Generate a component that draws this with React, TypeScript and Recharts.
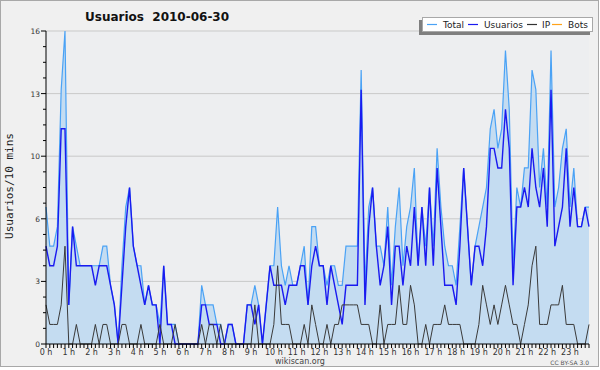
import React from "react";
import { ComposedChart, Area, Line, XAxis, YAxis, CartesianGrid } from "recharts";

const hourLabels = [
  "0 h", "1 h", "2 h", "3 h", "4 h", "5 h", "6 h", "7 h", "8 h", "9 h", "10 h", "11 h",
  "12 h", "13 h", "14 h", "15 h", "16 h", "17 h", "18 h", "19 h", "20 h", "21 h", "22 h", "23 h",
];

// one value every 10 minutes, 00:00 .. 23:50
const totalSeries = [
  7, 5, 5, 6, 13, 16, 2, 6, 5, 4,
  4, 4, 4, 4, 4, 5, 5, 3, 2, 0,
  4, 7, 8, 5, 4, 4, 2, 3, 2, 2,
  1, 4, 1, 1, 1, 0, 0, 0, 0, 0,
  0, 3, 2, 2, 2, 1, 1, 0, 1, 1,
  0, 0, 0, 2, 2, 3, 2, 0, 2, 4,
  4, 7, 4, 3, 4, 3, 3, 4, 5, 2,
  6, 6, 4, 4, 3, 4, 4, 3, 3, 5,
  5, 5, 5, 14, 3, 7, 8, 5, 5, 4,
  7, 3, 6, 8, 4, 6, 7, 9, 4, 7,
  5, 8, 5, 10, 7, 5, 4, 4, 3, 6,
  9, 6, 3, 5, 6, 7, 8, 11, 12, 10,
  11, 15, 12, 4, 8, 7, 9, 9, 14, 13,
  8, 10, 7, 15, 7, 8, 10, 11, 7, 9,
  6, 6, 7, 7,
];

const usuariosSeries = [
  5, 4, 4, 5, 11, 11, 2, 6, 4, 4,
  4, 4, 4, 3, 4, 4, 4, 3, 2, 0,
  3, 6, 8, 5, 4, 3, 2, 3, 2, 2,
  0, 4, 1, 1, 0, 0, 0, 0, 0, 0,
  0, 2, 2, 1, 1, 1, 0, 0, 1, 1,
  0, 0, 0, 2, 2, 1, 2, 0, 2, 4,
  3, 3, 3, 2, 3, 3, 3, 4, 4, 2,
  4, 5, 4, 4, 2, 4, 3, 2, 1, 3,
  3, 3, 3, 13, 2, 6, 8, 5, 3, 4,
  6, 2, 5, 5, 3, 5, 4, 7, 4, 7,
  4, 8, 4, 9, 6, 3, 3, 3, 2, 5,
  9, 6, 3, 5, 5, 4, 6, 10, 10, 9,
  9, 12, 10, 3, 7, 7, 8, 7, 10, 8,
  7, 9, 6, 13, 5, 6, 7, 10, 6, 8,
  6, 6, 7, 6,
];

const ipSeries = [
  2, 1, 1, 1, 2, 5, 0, 0, 1, 0,
  0, 0, 0, 1, 0, 1, 1, 0, 0, 0,
  1, 1, 0, 0, 0, 1, 0, 0, 0, 0,
  1, 0, 0, 0, 1, 0, 0, 0, 0, 0,
  0, 1, 0, 1, 1, 0, 1, 0, 0, 0,
  0, 0, 0, 0, 0, 2, 0, 0, 0, 0,
  1, 4, 1, 1, 1, 0, 0, 0, 1, 0,
  2, 1, 0, 0, 1, 0, 1, 1, 2, 2,
  2, 2, 2, 1, 1, 1, 0, 0, 2, 0,
  1, 1, 1, 3, 1, 1, 3, 2, 0, 0,
  1, 0, 1, 1, 1, 2, 1, 1, 1, 1,
  0, 0, 0, 0, 1, 3, 2, 1, 2, 1,
  2, 3, 2, 1, 1, 0, 1, 2, 4, 5,
  1, 1, 1, 2, 2, 2, 3, 1, 1, 1,
  0, 0, 0, 1,
];

const yMajorTicks = [0, 3.2, 6.4, 9.6, 12.8, 16];
const yMajorLabels = ["0", "3", "6", "10", "13", "16"];
const yAllTicks = [
  0, 0.8, 1.6, 2.4, 3.2, 4, 4.8, 5.6, 6.4, 7.2, 8, 8.8, 9.6, 10.4, 11.2, 12, 12.8, 13.6,
  14.4, 15.2, 16,
];

const legendNames = ["Total", "Usuarios", "IP", "Bots"];
const legendColors = ["#4aa2f5", "#1a1af0", "#333333", "#ffa31a"];

const rows = totalSeries.map((t, i) => ({
  slot: i,
  total: t,
  usuarios: usuariosSeries[i],
  ip: ipSeries[i],
}));
const xTicks = rows.map((r) => r.slot);

const FONT = "DejaVu Sans, Verdana, sans-serif";

const YTick = (props: any) => {
  const { x, y, payload } = props;
  const v = payload.value;
  const idx = yMajorTicks.findIndex((m) => Math.abs(m - v) < 1e-6);
  const major = idx >= 0;
  return (
    <g>
      <line x1={x - (major ? 5 : 3)} x2={x} y1={y} y2={y} stroke="#000" strokeWidth={1} />
      {major && (
        <text x={x - 6} y={y + 3} textAnchor="end" fontSize={7.5} fill="#333" fontFamily={FONT}>
          {yMajorLabels[idx]}
        </text>
      )}
    </g>
  );
};

const XTick = (props: any) => {
  const { x, y, payload } = props;
  const i = payload.value;
  return (
    <g>
      <line x1={x} x2={x} y1={y} y2={y + 4} stroke="#000" strokeWidth={1} />
      {i % 6 === 0 && (
        <text x={x} y={y + 11} textAnchor="middle" fontSize={8} fill="#333" fontFamily={FONT}>
          {hourLabels[i / 6]}
        </text>
      )}
    </g>
  );
};

const legendLineX = [427, 468, 527, 552];
const legendTextX = [443, 484, 542, 568];

export default function App() {
  return (
    <div style={{ position: "absolute", left: 0, top: 0, width: 600, height: 370, background: "#fff" }}>
      <div
        style={{
          position: "absolute",
          left: 0,
          top: 0,
          width: 599,
          height: 367,
          background: "#f0f0f0",
          border: "1px solid #a8a8a8",
          boxSizing: "border-box",
        }}
      />
      <div style={{ position: "absolute", left: 0, top: 0 }}>
        <ComposedChart width={600} height={370} data={rows} margin={{ top: 31, right: 11, left: 0, bottom: 0 }}>
          <CartesianGrid
            vertical={false}
            horizontalValues={[3.2, 6.4, 9.6, 12.8, 16]}
            stroke="#c9c9c9"
            fill="#edeef0"
            fillOpacity={1}
          />
          <XAxis
            type="number"
            dataKey="slot"
            domain={[0, 143]}
            ticks={xTicks}
            interval={0}
            height={26}
            tickSize={0}
            tickMargin={0}
            tickLine={false}
            axisLine={{ stroke: "#000", strokeWidth: 1 }}
            tick={<XTick />}
          />
          <YAxis
            type="number"
            domain={[0, 16]}
            ticks={yAllTicks}
            interval={0}
            width={46}
            tickSize={0}
            tickMargin={0}
            tickLine={false}
            axisLine={{ stroke: "#000", strokeWidth: 1 }}
            tick={<YTick />}
          />
          <Area
            type="linear"
            dataKey="total"
            stroke="#4aa2f5"
            strokeWidth={1.2}
            fill="#c4dcf1"
            fillOpacity={1}
            isAnimationActive={false}
            dot={false}
            activeDot={false}
          />
          <Line
            type="linear"
            dataKey="usuarios"
            stroke="#1a1af0"
            strokeWidth={1.4}
            dot={false}
            activeDot={false}
            isAnimationActive={false}
          />
          <Line
            type="linear"
            dataKey="ip"
            stroke="#3a3a3a"
            strokeWidth={1}
            dot={false}
            activeDot={false}
            isAnimationActive={false}
          />
        </ComposedChart>
      </div>
      <svg
        width={600}
        height={370}
        style={{ position: "absolute", left: 0, top: 0, pointerEvents: "none" }}
      >
        <text x={85} y={21} fontSize={12} fontWeight="bold" fill="#111" fontFamily={FONT} style={{ whiteSpace: "pre" }}>
          {"Usuarios  2010-06-30"}
        </text>
        <text
          transform="translate(13,186) rotate(-90)"
          textAnchor="middle"
          fontSize={11}
          fill="#222"
          fontFamily="DejaVu Sans Mono, monospace"
        >
          Usuarios/10 mins
        </text>
        <rect x={419} y={20} width={171} height={15} fill="#7f7f7f" />
        <rect x={422.5} y={17.5} width={170} height={14} fill="#fff" stroke="#a8a8a8" strokeWidth={1} />
        {legendNames.map((n, i) => (
          <g key={n}>
            <line x1={legendLineX[i]} x2={legendLineX[i] + 10} y1={24.5} y2={24.5} stroke={legendColors[i]} strokeWidth={1.2} />
            <text x={legendTextX[i]} y={28} fontSize={9} fill="#222" fontFamily={FONT}>
              {n}
            </text>
          </g>
        ))}
        <text x={300} y={364} textAnchor="middle" fontSize={8} fill="#444" fontFamily={FONT}>
          wikiscan.org
        </text>
        <text x={589} y={364.5} textAnchor="end" fontSize={6} fill="#555" fontFamily={FONT}>
          CC BY-SA 3.0
        </text>
      </svg>
    </div>
  );
}
